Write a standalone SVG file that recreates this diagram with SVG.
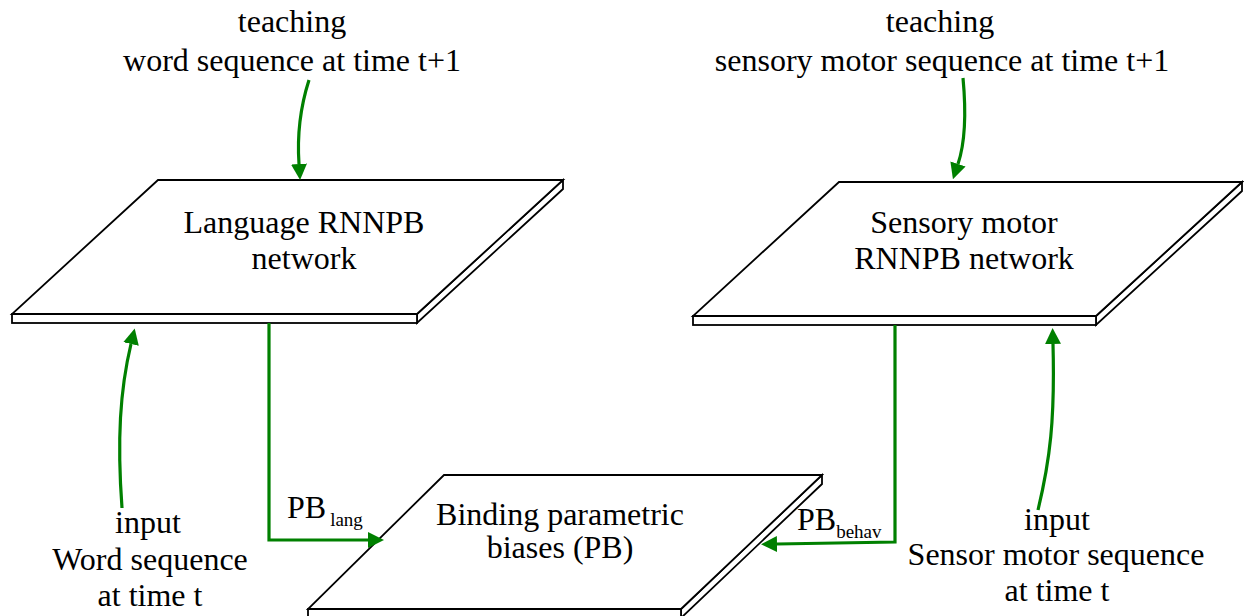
<svg xmlns="http://www.w3.org/2000/svg" width="1244" height="616" viewBox="0 0 1244 616" font-family="Liberation Serif, serif">
  <style>
    .plate { fill: #ffffff; stroke: #000000; stroke-width: 1.8; stroke-linejoin: miter; }
    .lbl { font-size: 32px; fill: #000000; text-anchor: middle; }
    .pb { font-size: 32px; fill: #000000; }
    .sub { font-size: 19px; }
    .link { fill: none; stroke: #008000; stroke-width: 3.2; }
  </style>
  <defs>
    <marker id="head" viewBox="0 0 16 16" refX="0" refY="8" markerWidth="16" markerHeight="16" markerUnits="userSpaceOnUse" orient="auto">
      <path d="M0,0 L16,8 L0,16 z" fill="#008000"/>
    </marker>
  </defs>

  <rect width="1244" height="616" fill="#ffffff"/>

  <!-- language network plate -->
  <g id="language-rnnpb">
    <polygon class="plate" points="563,180 563,189 417,323 417,314"/>
    <rect class="plate" x="12" y="314" width="405" height="9"/>
    <polygon class="plate" points="158,180 563,180 417,314 12,314"/>
    <text class="lbl" x="304" y="233">Language RNNPB</text>
    <text class="lbl" x="304" y="269">network</text>
  </g>

  <!-- sensory motor network plate -->
  <g id="sensory-motor-rnnpb">
    <polygon class="plate" points="1242,182 1242,191 1096,325 1096,316"/>
    <rect class="plate" x="693" y="316" width="403" height="9"/>
    <polygon class="plate" points="839,182 1242,182 1096,316 693,316"/>
    <text class="lbl" x="964" y="233">Sensory motor</text>
    <text class="lbl" x="964" y="269">RNNPB network</text>
  </g>

  <!-- binding parametric biases plate -->
  <g id="binding-pb">
    <polygon class="plate" points="822,475 822,484 681,618 681,609"/>
    <rect class="plate" x="308" y="609" width="373" height="9"/>
    <polygon class="plate" points="444,475 822,475 681,609 308,609"/>
    <text class="lbl" x="560" y="525">Binding parametric</text>
    <text class="lbl" x="560" y="558">biases (PB)</text>
  </g>

  <!-- free-standing labels -->
  <g id="teaching-word">
    <text class="lbl" x="292" y="32">teaching</text>
    <text class="lbl" x="292" y="71">word sequence at time t+1</text>
  </g>
  <g id="teaching-sensory">
    <text class="lbl" x="940" y="32">teaching</text>
    <text class="lbl" x="942" y="71">sensory motor sequence at time t+1</text>
  </g>
  <g id="input-word">
    <text class="lbl" x="148" y="533">input</text>
    <text class="lbl" x="150" y="570">Word sequence</text>
    <text class="lbl" x="150" y="606">at time t</text>
  </g>
  <g id="input-sensor">
    <text class="lbl" x="1057" y="530">input</text>
    <text class="lbl" x="1056" y="565">Sensor motor sequence</text>
    <text class="lbl" x="1057" y="601">at time t</text>
  </g>
  <g id="pb-lang-label">
    <text class="pb" x="287" y="518">PB<tspan class="sub" dx="4" dy="8">lang</tspan></text>
  </g>
  <g id="pb-behav-label">
    <text class="pb" x="797" y="530">PB<tspan class="sub" dy="8">behav</tspan></text>
  </g>

  <!-- connectors -->
  <g id="connectors">
    <path class="link" d="M309,80 C301,105 297,135 299,164" marker-end="url(#head)"/>
    <path class="link" d="M963,78 C966,110 966,140 958,164" marker-end="url(#head)"/>
    <path class="link" d="M122,508 C117,440 120,390 131,344" marker-end="url(#head)"/>
    <path class="link" d="M1038,510 C1050,460 1055,420 1053,344" marker-end="url(#head)"/>
    <path class="link" d="M269,323 V540 H368" marker-end="url(#head)"/>
    <path class="link" d="M895,325 V542 L777,544" marker-end="url(#head)"/>
  </g>
</svg>
